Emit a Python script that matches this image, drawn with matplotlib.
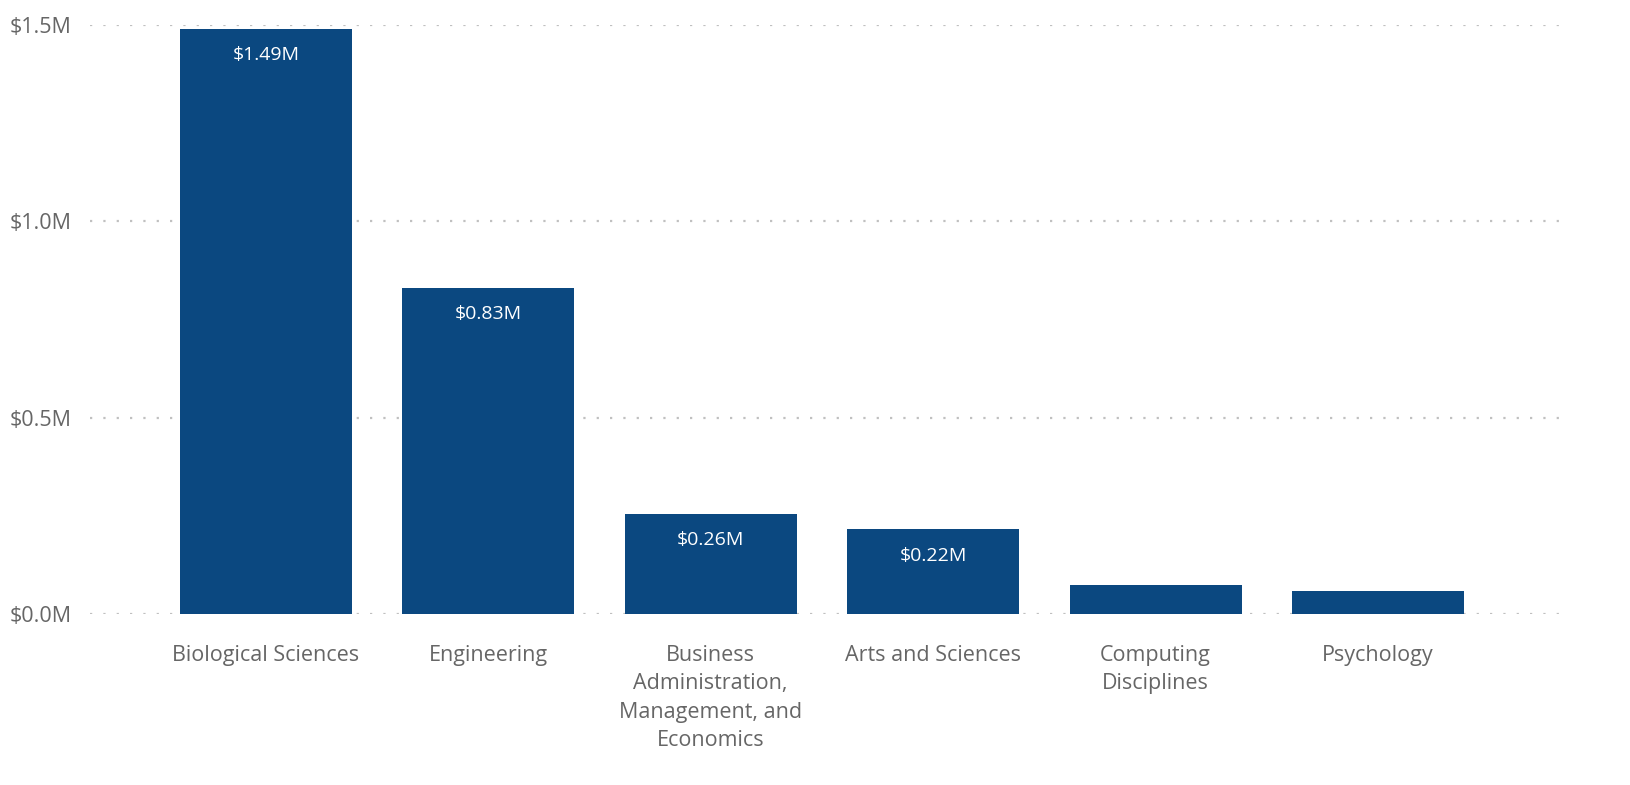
import matplotlib
matplotlib.use("Agg")
from matplotlib import pyplot as plt
from matplotlib.ticker import FuncFormatter

# data (millions of dollars)
categories = ["Biological Sciences", "Engineering",
              "Business\nAdministration,\nManagement, and\nEconomics",
              "Arts and Sciences", "Computing\nDisciplines", "Psychology"]
values = [1.49, 0.83, 0.255, 0.216, 0.074, 0.059]
labels = ["$1.49M", "$0.83M", "$0.26M", "$0.22M", "", ""]
yticks = [0.0, 0.5, 1.0, 1.5]

plt.rcParams['font.family'] = ['Open Sans', 'DejaVu Sans']

fig = plt.figure(figsize=(16.31, 7.85), dpi=100)
ax = fig.add_axes([90/1631, 171/785, (1565-90)/1631, (614-25)/785])

x = list(range(len(categories)))
bars = ax.bar(x, values, width=0.774, color="#0B4880", zorder=2)

for rect, lab in zip(bars, labels):
    if lab:
        ax.annotate(lab.replace("$", r"\$"),
                    (rect.get_x() + rect.get_width()/2, rect.get_height()),
                    xytext=(0, -19), textcoords="offset points",
                    ha="center", va="center", color="white", fontsize=14)

ax.set_xlim(-0.79, 5.84)
ax.set_ylim(0, 1.5)
ax.set_yticks(yticks)
ax.yaxis.set_major_formatter(FuncFormatter(lambda v, p: r"\$%.1fM" % v))
ax.set_xticks(x)
ax.set_xticklabels(categories, linespacing=1.47)

ax.grid(axis="y", color="#c0c0c0", linestyle=(0, (1, 5)), linewidth=1.6, zorder=0)
ax.set_axisbelow(True)
for s in ax.spines.values():
    s.set_visible(False)
ax.tick_params(axis="both", length=0, labelsize=15.5, labelcolor="#666666")
ax.tick_params(axis="x", pad=22)
ax.tick_params(axis="y", pad=13)

fig.savefig("out.png", dpi=100)
